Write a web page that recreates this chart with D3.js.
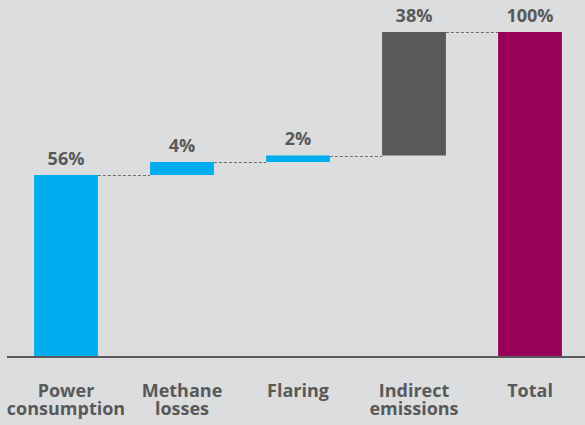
<!DOCTYPE html>
<html>
<head>
<meta charset="utf-8">
<script src="https://cdn.jsdelivr.net/npm/d3@7/dist/d3.min.js"></script>
<style>
  html, body { margin: 0; padding: 0; background: #dcdddf; }
  svg { display: block; }
  text { font-family: "Open Sans", Lato, sans-serif; font-weight: bold; fill: #595959; }
</style>
</head>
<body>
<svg id="chart" width="585" height="425"></svg>
<script>
// Waterfall of emission contributions (share of total, %)
const categories = [["Power", "consumption"], ["Methane", "losses"], ["Flaring"], ["Indirect", "emissions"], ["Total"]];
const values = [56, 4, 2, 38, 100];
const isTotal = [false, false, false, false, true];
const colors = ["#00aeef", "#00aeef", "#00aeef", "#58595b", "#990059"];
const valueLabels = ["56%", "4%", "2%", "38%", "100%"];

const svg = d3.select("#chart");

// running start/end of each step
let acc = 0;
const steps = values.map((v, i) => {
  if (isTotal[i]) return { start: 0, end: v };
  const s = { start: acc, end: acc + v };
  acc += v;
  return s;
});

const x = d3.scaleBand()
  .domain(d3.range(categories.length))
  .range([8, 588])
  .paddingInner(0.45)
  .paddingOuter(0.225);

const y = d3.scaleLinear().domain([0, 100]).range([357, 32]);

// bars
svg.selectAll("rect.bar").data(steps).join("rect")
  .attr("class", "bar")
  .attr("x", (d, i) => x(i))
  .attr("width", x.bandwidth())
  .attr("y", d => y(d.end))
  .attr("height", d => y(d.start) - y(d.end))
  .attr("fill", (d, i) => colors[i]);

// dashed connectors between consecutive steps
const links = steps.slice(0, -1).map((d, i) => ({ i, level: d.end }));
svg.selectAll("line.link").data(links).join("line")
  .attr("class", "link")
  .attr("x1", d => x(d.i) + x.bandwidth())
  .attr("x2", d => x(d.i + 1))
  .attr("y1", d => Math.round(y(d.level)) + 0.5)
  .attr("y2", d => Math.round(y(d.level)) + 0.5)
  .attr("stroke", "#6e6e6e")
  .attr("stroke-width", 1)
  .attr("stroke-dasharray", "3,2");

// baseline axis
const axis = svg.append("g").attr("transform", `translate(0,${y(0)})`)
  .call(d3.axisBottom(x).tickSize(0).tickFormat(""));
axis.select(".domain").attr("stroke", "#595959").attr("stroke-width", 2)
  .attr("d", `M${7},0H${585}`);

// value labels
svg.selectAll("text.val").data(steps).join("text")
  .attr("class", "val")
  .attr("x", (d, i) => x(i) + x.bandwidth() / 2)
  .attr("y", d => y(d.end) - 10.5)
  .attr("text-anchor", "middle")
  .attr("font-size", 18)
  .text((d, i) => valueLabels[i]);

// category labels, one text element per line
const catLines = categories.flatMap((lines, i) => lines.map((t, j) => ({ i, j, t })));
svg.selectAll("text.cat").data(catLines).join("text")
  .attr("class", "cat")
  .attr("text-anchor", "middle")
  .attr("font-size", 18)
  .attr("x", d => x(d.i) + x.bandwidth() / 2)
  .attr("y", d => 397 + d.j * 18)
  .text(d => d.t);
</script>
</body>
</html>
